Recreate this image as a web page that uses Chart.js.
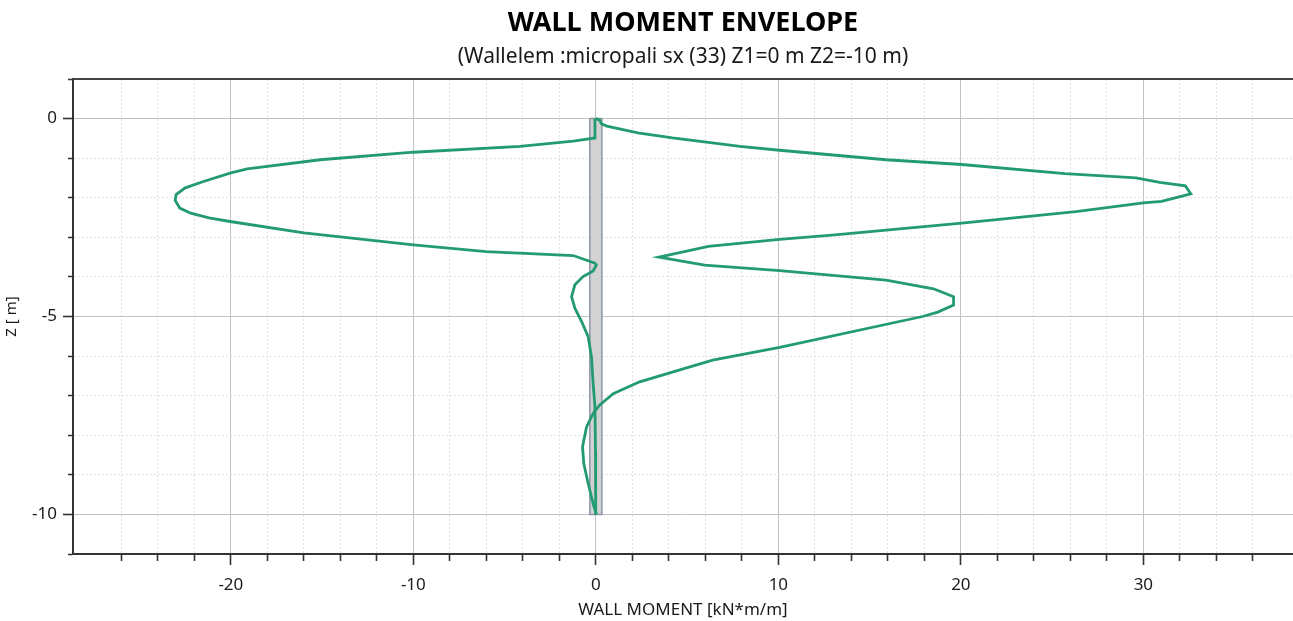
<!DOCTYPE html>
<html>
<head>
<meta charset="utf-8">
<title>Wall moment envelope</title>
<script src="https://cdn.jsdelivr.net/npm/chart.js@4/dist/chart.umd.min.js"></script>
<style>
  body { margin: 0; background: #fff; }
  #wrap { width: 1293px; height: 621px; position: relative; }
</style>
</head>
<body>
<div id="wrap"><canvas id="momentChart"></canvas></div>
<script>
// Chart texts
const chartTitle = 'WALL MOMENT ENVELOPE';
const chartSubtitle = '(Wallelem :micropali sx (33) Z1=0 m Z2=-10 m)';
const xTitle = 'WALL MOMENT [kN*m/m]';
const yTitle = 'Z [ m]';

// Left branch of the envelope (depth z, moment)
const zLeft = [0, -0.49, -0.57, -0.70, -0.85, -1.04, -1.27, -1.37, -1.59, -1.75, -1.92, -2.07, -2.26, -2.39, -2.51, -2.60,
  -2.89, -3.19, -3.36, -3.46, -3.65, -3.70, -3.85, -3.99, -4.20, -4.50, -4.79, -5.13, -5.51, -6.02, -6.69, -7.28, -8.4, -9.2, -10.0];
const mLeft = [-0.05, -0.05, -1.24, -4.16, -10.0, -15.1, -19.1, -20.0, -21.5, -22.5, -23.0, -23.05, -22.8, -22.2, -21.2, -20.05,
  -16.0, -10.0, -6.0, -1.24, -0.05, 0.03, -0.15, -0.7, -1.15, -1.33, -1.15, -0.78, -0.42, -0.24, -0.15, -0.05, -0.02, -0.02, 0.0];

// Right branch of the envelope (depth z, moment)
const zRight = [0, -0.04, -0.13, -0.19, -0.36, -0.49, -0.70, -0.80, -1.04, -1.16, -1.39, -1.50, -1.61, -1.70, -1.90, -2.09, -2.13,
  -2.35, -2.64, -2.94, -3.05, -3.23, -3.50, -3.70, -3.84, -4.08, -4.30, -4.50, -4.71, -4.89, -5.0, -5.78, -6.10, -6.35, -6.65,
  -6.95, -7.24, -7.45, -7.79, -8.29, -8.72, -9.22, -9.73, -10.0];
const mRight = [0.0, 0.21, 0.3, 0.6, 2.3, 4.2, 7.9, 10.07, 15.9, 20.05, 25.7, 29.6, 30.9, 32.3, 32.6, 31.0, 30.0,
  26.3, 20.05, 13.1, 10.07, 6.17, 3.46, 5.96, 10.07, 15.9, 18.5, 19.6, 19.6, 18.74, 17.9, 10.07, 6.4, 4.6, 2.4,
  0.95, 0.2, -0.15, -0.51, -0.73, -0.66, -0.42, -0.15, 0.03];

// Wall outline (thin rectangle from Z1 to Z2)
const wallX = [-0.33, 0.33, 0.33, -0.33, -0.33];
const wallZ = [0, 0, -10, -10, 0];

// Axis ranges and tick steps
const xMin = -28.65, xMax = 38.2, xStep = 2, xLabelEvery = 10;
const zMin = -11, zMax = 1, zStep = 1, zLabelEvery = 5;

const green = '#239b71';
const fontFamily = "'Noto Sans', 'Open Sans', sans-serif";

const toPoints = (xs, ys) => xs.map((x, i) => ({ x: x, y: ys[i] }));
const isMult = (v, m) => Math.abs(v / m - Math.round(v / m)) < 1e-6;

Chart.defaults.font.family = fontFamily;
Chart.defaults.color = '#1a1a1a';

// Titles centred on the plot area + top frame line
const framePlugin = {
    id: 'framePlugin',
    afterDraw(chart) {
        const { ctx, chartArea } = chart;
        const cx = (chartArea.left + chartArea.right) / 2;
        ctx.save();
        ctx.strokeStyle = '#444';
        ctx.lineWidth = 2;
        ctx.beginPath();
        ctx.moveTo(chartArea.left, chartArea.top);
        ctx.lineTo(chartArea.right, chartArea.top);
        ctx.stroke();
        ctx.fillStyle = '#000';
        ctx.textAlign = 'center';
        ctx.textBaseline = 'middle';
        ctx.font = 'bold 27px ' + fontFamily;
        ctx.fillText(chartTitle, cx, 23);
        ctx.font = '21px ' + fontFamily;
        ctx.fillStyle = '#1a1a1a';
        ctx.fillText(chartSubtitle, cx, 57);
        ctx.restore();
    }
};

const ctx = document.getElementById('momentChart').getContext('2d');

const momentChart = new Chart(ctx, {
    type: 'scatter',
    data: {
        datasets: [
            {
                label: 'Envelope left',
                data: toPoints(mLeft, zLeft),
                showLine: true,
                borderColor: green,
                borderWidth: 2.8,
                pointRadius: 0,
                fill: false,
                tension: 0
            },
            {
                label: 'Envelope right',
                data: toPoints(mRight, zRight),
                showLine: true,
                borderColor: green,
                borderWidth: 2.8,
                pointRadius: 0,
                fill: false,
                tension: 0
            },
            {
                label: 'Wall',
                data: toPoints(wallX, wallZ),
                showLine: true,
                borderColor: '#8c96a8',
                borderWidth: 1.5,
                backgroundColor: '#d2d2d2',
                pointRadius: 0,
                fill: 'shape'
            }
        ]
    },
    options: {
        responsive: true,
        maintainAspectRatio: false,
        animation: false,
        layout: { padding: { top: 79, left: 0, right: 0, bottom: 0 } },
        plugins: {
            legend: { display: false },
            tooltip: { enabled: false },
            title: { display: false }
        },
        scales: {
            x: {
                type: 'linear',
                position: 'bottom',
                min: xMin,
                max: xMax,
                afterBuildTicks: s => { s.ticks = s.ticks.filter(t => isMult(t.value, xStep)); },
                afterFit: s => { s.height = 67; },
                ticks: {
                    stepSize: xStep,
                    autoSkip: false,
                    maxRotation: 0,
                    padding: 10,
                    color: '#1a1a1a',
                    font: { size: 17 },
                    callback: v => isMult(v, xLabelEvery) ? String(Math.round(v)) : ''
                },
                grid: {
                    color: c => isMult(c.tick.value, xLabelEvery) ? '#c2c2c2' : '#e2e2e2',
                    lineWidth: 1,
                    tickLength: 11,
                    tickColor: '#333',
                    tickWidth: 1.6,
                    tickBorderDash: c => isMult(c.tick.value, xLabelEvery) ? [] : [6, 100]
                },
                border: {
                    color: '#333',
                    width: 2,
                    dash: c => (c.type === 'tick' && !isMult(c.tick.value, xLabelEvery)) ? [2, 2] : []
                },
                title: {
                    display: true,
                    text: xTitle,
                    color: '#1a1a1a',
                    font: { size: 17 },
                    padding: { top: 0, bottom: 1 }
                }
            },
            y: {
                type: 'linear',
                min: zMin,
                max: zMax,
                afterBuildTicks: s => { s.ticks = s.ticks.filter(t => isMult(t.value, zStep)); },
                afterFit: s => { s.width = 73; },
                ticks: {
                    stepSize: zStep,
                    autoSkip: false,
                    padding: 6,
                    color: '#1a1a1a',
                    font: { size: 17 },
                    callback: v => isMult(v, zLabelEvery) ? String(Math.round(v)) : ''
                },
                grid: {
                    color: c => isMult(c.tick.value, zLabelEvery) ? '#c2c2c2' : '#e2e2e2',
                    lineWidth: 1,
                    tickLength: 10,
                    tickColor: '#333',
                    tickWidth: 1.6,
                    tickBorderDash: c => isMult(c.tick.value, zLabelEvery) ? [] : [0, 5, 5, 100]
                },
                border: {
                    color: '#333',
                    width: 2,
                    dash: c => (c.type === 'tick' && !isMult(c.tick.value, zLabelEvery)) ? [2, 2] : []
                },
                title: {
                    display: true,
                    text: yTitle,
                    color: '#1a1a1a',
                    font: { size: 15 },
                    padding: { top: 3, bottom: 0 }
                }
            }
        }
    },
    plugins: [framePlugin]
});
</script>
</body>
</html>
